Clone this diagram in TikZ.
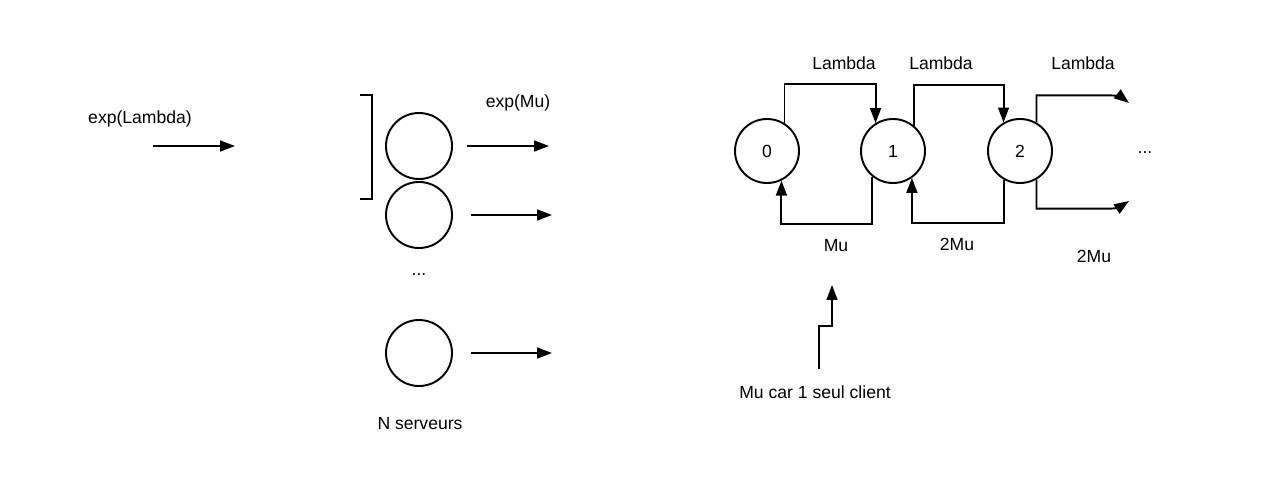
\documentclass[tikz,border=0pt]{standalone}
\usepackage{fontspec}
\setmainfont{Liberation Sans}
\usetikzlibrary{arrows.meta}
\begin{document}
\begin{tikzpicture}[
    x=0.2mm, y=-0.2mm,
    every node/.style={font=\fontsize{10}{12}\selectfont},
    state/.style={draw, circle, line width=1.1pt, minimum size=12.8mm, inner sep=0pt},
    server/.style={draw, circle, line width=1.1pt, minimum size=13.2mm, inner sep=0pt},
    arr/.style={-{Triangle[length=8.5pt, width=6.2pt]}, line width=1.1pt},
    line/.style={line width=1.1pt}
  ]
  \useasboundingbox (0,0) rectangle (1281,493);

  \node (explam) at (140,119) {exp(Lambda)};
  \coordinate (inA) at (153,146);
  \coordinate (inB) at (235,146);
  \draw[arr] (inA) -- (inB);

  \node[server] (srv1) at (419,146) {};
  \node[server] (srv2) at (419,215) {};
  \node (dots) at (419,275) {...};
  \node[server] (srv3) at (419,353) {};
  \node (nserv) at (420,424) {N serveurs};
  \node (expmu) at (518,103) {exp(Mu)};
  \draw[line] (360,95) -- (372,95) -- (372,199) -- (360,199);

  \draw[arr] (srv1.east) ++(14,0) -- ++(82,0);
  \draw[arr] (srv2.east) ++(18,0) -- ++(81,0);
  \draw[arr] (srv3.east) ++(18,0) -- ++(81,0);

  \node[state] (s0) at (767,151) {0};
  \node[state] (s1) at (893,151) {1};
  \node[state] (s2) at (1020,151) {2};
  \node (more) at (1145,153) {...};

  \node (lam1) at (844,63) {Lambda};
  \node (lam2) at (941,63) {Lambda};
  \node (lam3) at (1083,63) {Lambda};
  \node (mu1) at (836,246) {Mu};
  \node (mu2) at (957,244) {2Mu};
  \node (mu3) at (1094,256) {2Mu};

  \coordinate (outA) at (1129,103);
  \coordinate (outB) at (1129,201);
  \draw[arr] (s0.58) -- ++(0,-39) -| (s1.122);
  \draw[arr] (s1.50) -- ++(0,-41) -| (s2.120);
  \draw[arr] (s2.60) -- ++(0,-27) -- ++(75,0) to[out=0, in=142] (outA);
  \draw[arr] (s2.300) -- ++(0,29) -- ++(75,0) to[out=0, in=213] (outB);
  \draw[arr] (s1.231) -- ++(0,47) -| (s0.296);
  \draw[arr] (s2.240) -- ++(0,43) -| (s1.305);

  \node (note) at (815,392) {Mu car 1 seul client};
  \coordinate (noteTip) at (832,285);
  \draw[arr] (note.north) ++(4,-10) -- ++(0,-43) -| (noteTip);
\end{tikzpicture}
\end{document}
